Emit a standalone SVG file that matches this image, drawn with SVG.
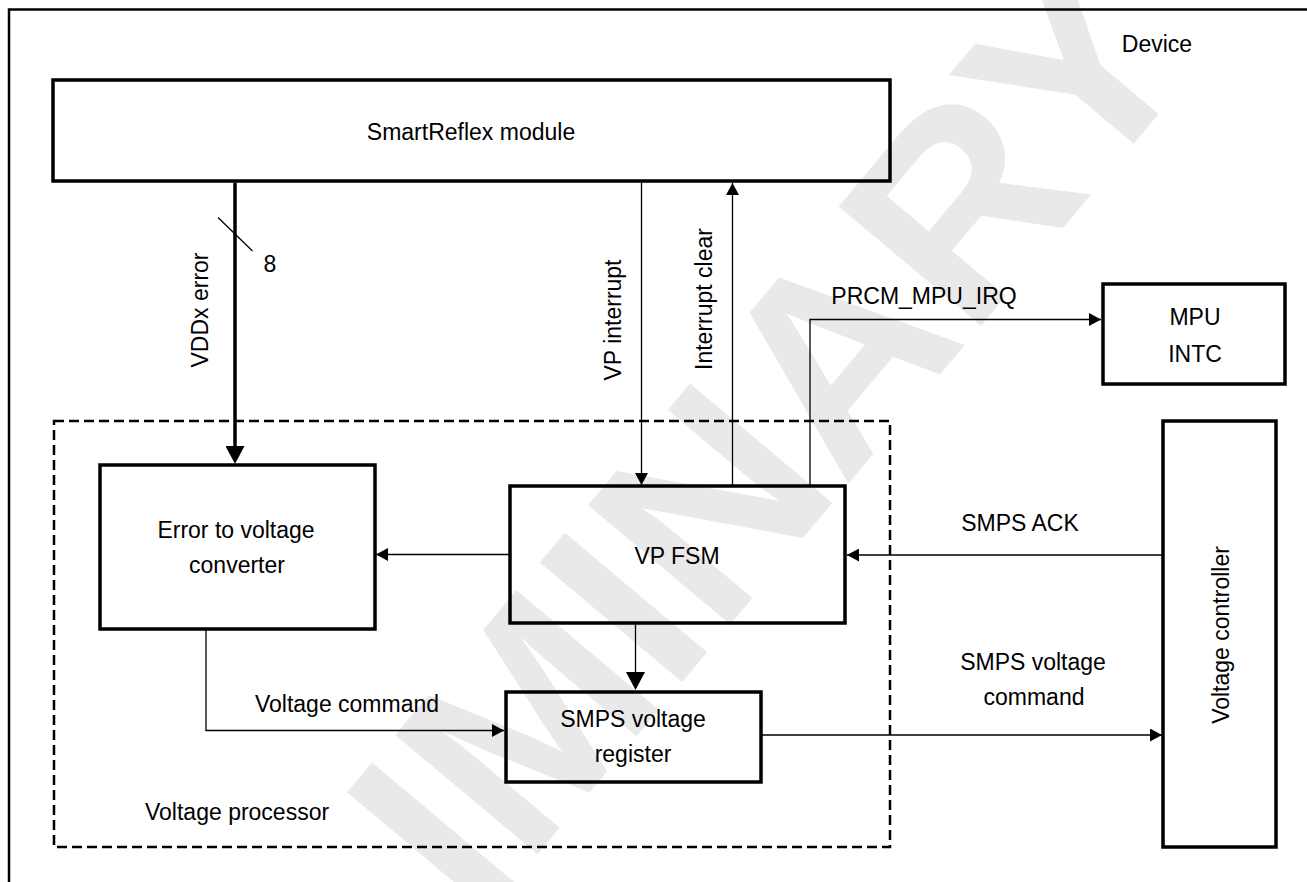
<svg xmlns="http://www.w3.org/2000/svg" width="1307" height="882" viewBox="0 0 1307 882">
<style>
  text { font-family: "Liberation Sans", Arial, sans-serif; font-size: 23px; fill: #000; }
  .c { text-anchor: middle; }
  .box { fill: none; stroke: #000; stroke-width: 3.5; }
  .thin { fill: none; stroke: #000; stroke-width: 1.3; }
  .thick { fill: none; stroke: #000; stroke-width: 3.5; }
  .dash { fill: none; stroke: #000; stroke-width: 2.5; stroke-dasharray: 10 5; }
  .wm { font-family: "Liberation Sans", Arial, sans-serif; font-weight: bold; font-size: 270px; fill: #e9e9e9; text-anchor: end; }
</style>
<defs>
  <marker id="ah" viewBox="0 0 12 13" refX="12" refY="6.5" markerWidth="12" markerHeight="13" markerUnits="userSpaceOnUse" orient="auto">
    <path d="M0,0 L12,6.5 L0,13 z" fill="#000"/>
  </marker>
  <marker id="ahb" viewBox="0 0 18 19" refX="0" refY="9.5" markerWidth="18" markerHeight="19" markerUnits="userSpaceOnUse" orient="auto">
    <path d="M0,0 L18,9.5 L0,19 z" fill="#000"/>
  </marker>
</defs>
<rect width="1307" height="882" fill="#fff"/>
<text class="wm" transform="translate(1204,60) rotate(-50)">PRELIMINARY</text>

<g id="device">
  <path d="M9,882 V9.5 H1307" fill="none" stroke="#000" stroke-width="2.5"/>
  <text x="1157" y="52" class="c">Device</text>
</g>

<g id="voltage-processor">
  <rect x="54" y="421" width="836" height="426" class="dash"/>
  <text x="145" y="820">Voltage processor</text>
</g>

<g id="smartreflex">
  <rect x="53" y="80" width="837" height="101" class="box"/>
  <text x="471" y="140" class="c">SmartReflex module</text>
</g>

<g id="mpu-intc">
  <rect x="1103" y="284" width="182" height="100" class="box"/>
  <text x="1195" y="325" class="c">MPU</text>
  <text x="1195" y="362" class="c">INTC</text>
</g>

<g id="voltage-controller">
  <rect x="1163" y="421" width="113" height="426" class="box"/>
  <text transform="translate(1229,635) rotate(-90)" class="c">Voltage controller</text>
</g>

<g id="error-converter">
  <rect x="100" y="465" width="275" height="164" class="box"/>
  <text x="236" y="538" class="c">Error to voltage</text>
  <text x="237" y="573" class="c">converter</text>
</g>

<g id="vp-fsm">
  <rect x="510" y="486" width="335" height="137" class="box"/>
  <text x="677" y="564" class="c">VP FSM</text>
</g>

<g id="smps-register">
  <rect x="506" y="692" width="255" height="90" class="box"/>
  <text x="633" y="727" class="c">SMPS voltage</text>
  <text x="633" y="762" class="c">register</text>
</g>

<g id="connectors">
  <path d="M235,182.5 V446" class="thick" marker-end="url(#ahb)"/>
  <path d="M218,217.5 L252.5,251" class="thin"/>
  <text x="270" y="272" class="c">8</text>
  <text transform="translate(208,310) rotate(-90)" class="c">VDDx error</text>

  <path d="M641.5,182.5 V485" class="thin" marker-end="url(#ah)"/>
  <text transform="translate(621,320) rotate(-90)" class="c">VP interrupt</text>

  <path d="M732.5,486 V183" class="thin" marker-end="url(#ah)"/>
  <text transform="translate(712,299) rotate(-90)" class="c">Interrupt clear</text>

  <path d="M810,486 V319.5 H1101" class="thin" marker-end="url(#ah)"/>
  <text x="924" y="304" class="c">PRCM_MPU_IRQ</text>

  <path d="M510,554.5 H376" class="thin" marker-end="url(#ah)"/>

  <path d="M1163,555 H847" class="thin" marker-end="url(#ah)"/>
  <text x="1020" y="531" class="c">SMPS ACK</text>

  <path d="M635.5,623 V672" class="thin" marker-end="url(#ahb)"/>

  <path d="M206,629 V730.5 H504" class="thin" marker-end="url(#ah)"/>
  <text x="347" y="712" class="c">Voltage command</text>

  <path d="M761,735 H1162" class="thin" marker-end="url(#ah)"/>
  <text x="1033" y="670" class="c">SMPS voltage</text>
  <text x="1034" y="705" class="c">command</text>
</g>
</svg>
